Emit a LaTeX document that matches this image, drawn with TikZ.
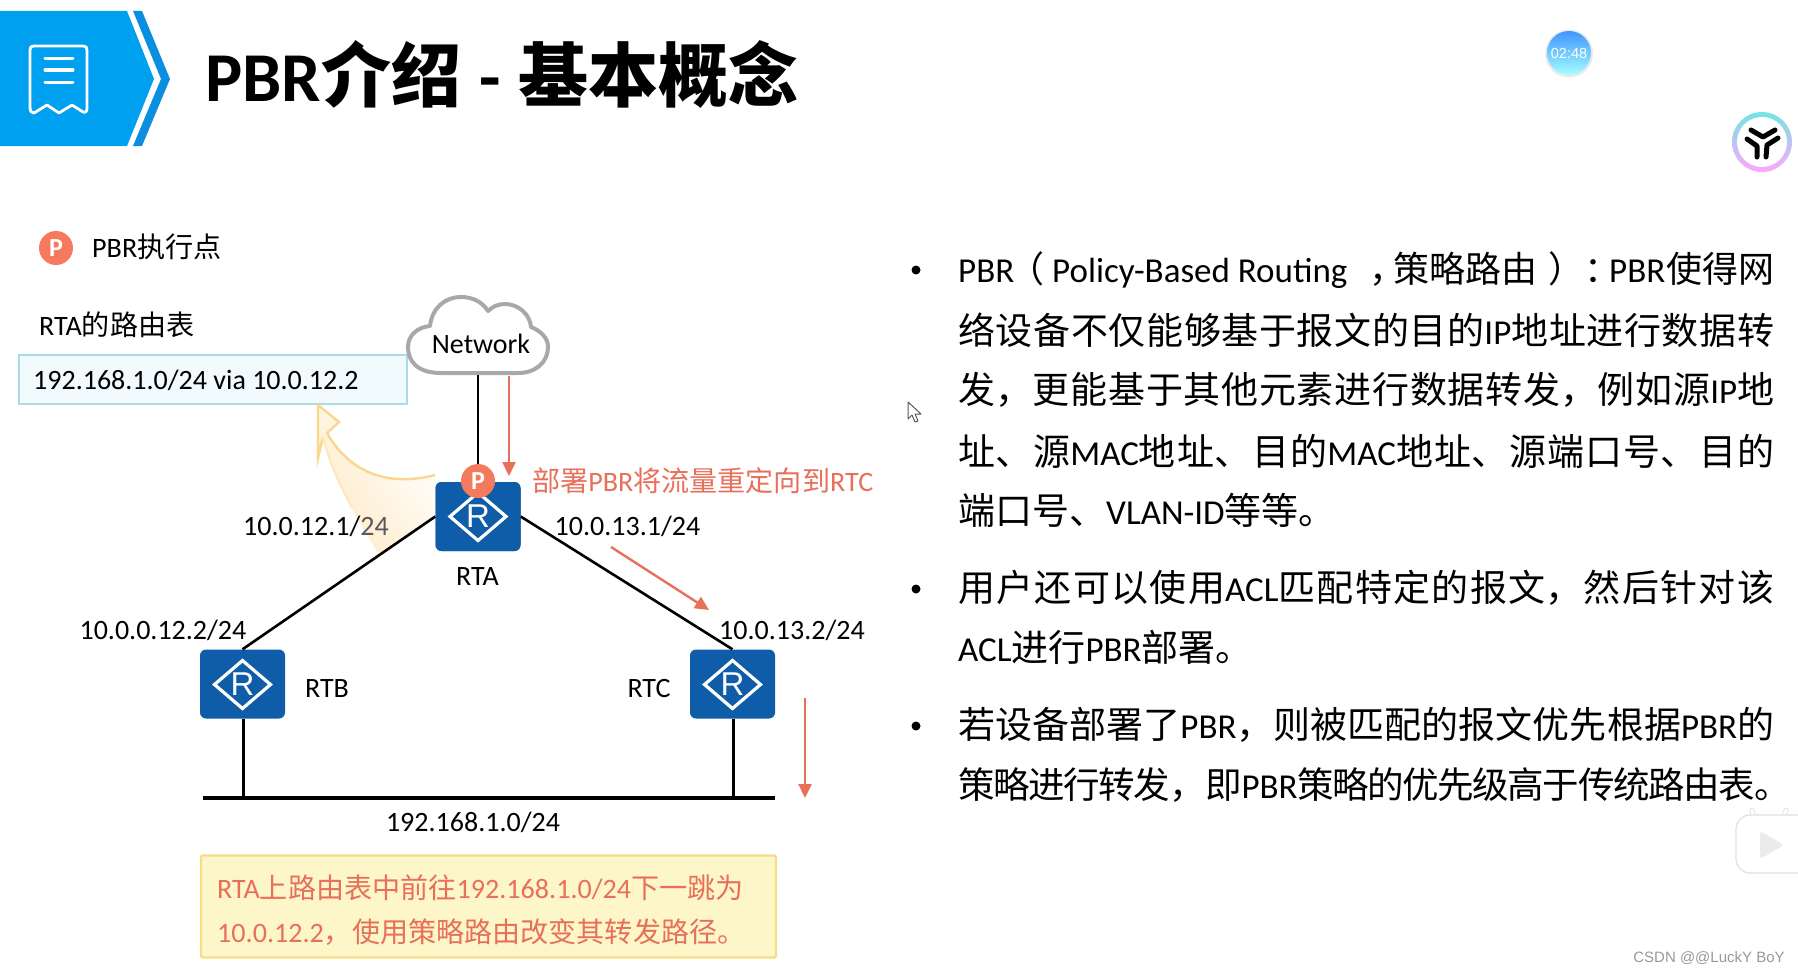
\documentclass[tikz,border=0pt]{standalone}
\usepackage{fontspec}
\usetikzlibrary{arrows.meta,shadings}
\setmainfont{Noto Sans CJK SC}
\newfontfamily\enf{Carlito}
\newfontfamily\wmf{Liberation Sans}
\newcommand{\en}[1]{{\enf #1}}
\newcommand{\enb}[1]{{\enf\fontsize{35}{42}\selectfont #1}}
\newcommand{\atx}[2]{\rlap{\hskip #1pt #2}}
\definecolor{hdblue}{HTML}{00A0F0}
\definecolor{hddark}{HTML}{0A8FE0}
\definecolor{rtblue}{HTML}{0F5CA8}
\definecolor{pbr}{HTML}{F47A5E}
\definecolor{redl}{HTML}{E8705A}
\definecolor{cloudg}{HTML}{A8A8A8}
\definecolor{tabb}{HTML}{A9DCEB}
\definecolor{tabf}{HTML}{F1FAFD}
\definecolor{ylwf}{HTML}{FDF6C8}
\definecolor{ylwb}{HTML}{F6DC86}
\definecolor{curv}{HTML}{FBD68F}
\definecolor{curvf}{HTML}{FFEBC8}
\tikzset{
 x=1pt,y=-1pt,
 router/.style={fill=rtblue,rounded corners=6pt,draw=none,inner sep=0pt,minimum width=85pt,minimum height=69pt},
 link/.style={line width=2.6pt,black},
 flow/.style={line width=2.4pt,redl,-{Triangle[length=14pt,width=13pt]},shorten >=0pt},
 lab/.style={font=\enf\fontsize{28}{32}\selectfont,inner sep=0pt,text=black},
 cn/.style={font=\fontsize{28.1}{32}\selectfont,inner sep=0pt},
 pbadge/.style={circle,fill=pbr,text=white,inner sep=0pt,minimum size=34pt,font=\enf\bfseries\fontsize{26}{26}\selectfont},
 bline/.style={anchor=west,inner sep=0pt,text=black,font=\fontsize{37}{42}\selectfont},
 iconln/.style={line width=3pt,white,line cap=round},
 bdot/.style={circle,fill=black,inner sep=0pt,minimum size=9pt},
 aiglyph/.style={line width=5pt,black,line cap=round,line join=round},
}
\newcommand{\bodyl}[2]{\parbox{#1pt}{\fontsize{37}{42}\selectfont\XeTeXlinebreaklocale "zh"\XeTeXlinebreakskip=0pt plus 6pt minus 1.5pt\parindent=0pt\parfillskip=0pt\tolerance=9999\hbadness=10000 #2}}
\newcommand{\routericon}[2]{%
 \draw[white,line width=3.2pt,line join=miter] (#1-28,#2) -- (#1,#2-24) -- (#1+28,#2) -- (#1,#2+24) -- cycle;
 \node[text=white,inner sep=0pt,font=\wmf\fontsize{33}{33}\selectfont] at (#1,#2) {R};}
\begin{document}
\begin{tikzpicture}
\useasboundingbox (0,0) rectangle (1798,974);
\fill[white] (0,0) rectangle (1798,974);
% header
\fill[hdblue] (0,11) -- (127,11) -- (154,79) -- (127,146) -- (0,146) -- cycle;
\fill[hddark] (133,11) -- (142,11) -- (170,79) -- (142,146) -- (133,146) -- (161,79) -- cycle;
\draw[white,line width=2.8pt,line join=round] (34,113) .. controls (31,113) and (30,111) .. (30,108) -- (30,50) .. controls (30,47) and (31,46) .. (34,46) -- (83,46) .. controls (86,46) and (87,47) .. (87,50) -- (87,108) .. controls (87,111) and (86,113) .. (83,112) -- (72,105) -- (59,113) -- (47,105) -- cycle;
\draw[iconln] (45,59) -- (73,59);
\draw[iconln] (45,70) -- (73,70);
\draw[iconln] (45,82) -- (73,82);
\node[anchor=west,inner sep=0pt,font=\bfseries\fontsize{70}{76}\selectfont] (title) at (205,74) {\en{PBR}介绍\hskip 2pt{} \en{-}\hskip 2pt{} 基本概念};
% timer
\fill[white!92!black] (1569,53.5) circle (24);
\shade[top color=blue!55!cyan!75!white,bottom color=cyan!35!white] (1569,53) circle (22);
\node[inner sep=0pt,text=white,font=\wmf\fontsize{14.5}{16}\selectfont] (timer) at (1569,54) {02:48};
% ai icon
\shade[left color=cyan!50!white!90!black,right color=magenta!35!white,shading angle=0] (1762,142) circle (30);
\fill[white] (1762,142) circle (25);
\draw[aiglyph] (1751,130) -- (1763,137) -- (1775,130);
\draw[aiglyph] (1747,139) -- (1757,146) -- (1757,157);
\draw[aiglyph] (1778,138) -- (1767,145) -- (1766,157);
% tv
\draw[black!10,line width=5pt,line cap=round] (1755,822) -- (1752,810);
\draw[black!10,line width=5pt,line cap=round] (1782,820) -- (1786,810);
\draw[white,line width=3pt,line cap=round] (1755,822) -- (1752,810);
\draw[white,line width=3pt,line cap=round] (1782,820) -- (1786,810);
\fill[white,draw=black!12,line width=1.2pt,rounded corners=14pt] (1736,815) rectangle (1815,873);
\fill[black!8,rounded corners=3pt] (1760,831) -- (1784,845) -- (1760,859) -- cycle;
% cursor
\draw[black!65,fill=white,line width=1pt,line join=round] (908,402) -- (908,419) -- (912,415) -- (915,422) -- (918,421) -- (915,414) -- (921,414) -- cycle;
% watermark
\node[inner sep=0pt,text=black!40,font=\wmf\fontsize{15}{18}\selectfont] (wm) at (1709,958) {CSDN @@LuckY BoY};
% legend
\node[pbadge] (legendp) at (56,248) {P};
\node[cn,anchor=west] (legendt) at (92,247) {\en{PBR}执行点};
\node[cn,anchor=west] (tabtitle) at (39,324.5) {\en{RTA}的路由表};
\node[draw=tabb,fill=tabf,line width=2pt,minimum width=388pt,minimum height=49pt,inner sep=0pt] (tab) at (213,379.5) {};
\node[lab,anchor=west] (tabtext) at (33,380) {192.168.1.0/24 via 10.0.12.2};
% curved arrow
\shade[left color=curvf,right color=white,shading angle=125,draw=none] (318,405) -- (339,422) -- (327,433) .. controls (348,470) and (385,488) .. (435,475) -- (435,516) -- (380,556) .. controls (360,525) and (340,490) .. (323,437) -- (318,458) -- cycle;
\draw[curv,line width=2.4pt,line join=miter] (323,437) -- (318,458) -- (318,405) -- (339,422) -- (327,433) .. controls (348,470) and (385,488) .. (435,475);
\draw[curv!60!white,line width=2pt] (323,437) .. controls (330,465) and (340,485) .. (352,508);
% cloud
\draw[cloudg,fill=white,line width=4pt,line join=round] (441,373) .. controls (418,373) and (408,362) .. (408,347) .. controls (408,335) and (418,327) .. (430,326) .. controls (432,308) and (445,297) .. (461,297) .. controls (474,297) and (483,303) .. (488,311) .. controls (493,306) and (499,304) .. (505,304) .. controls (518,304) and (530,314) .. (531,327) .. controls (541,331) and (548,338) .. (548,347) .. controls (548,362) and (536,373) .. (518,373) -- cycle;
\node[lab,inner sep=0pt] (net) at (481,344) {Network};
\coordinate (netb) at (478,375);
\coordinate (flowa) at (509,376);
\coordinate (flowb) at (509,476);
\coordinate (flowc) at (611,547);
\coordinate (flowd) at (709,610);
\coordinate (flowe) at (805,698);
\coordinate (flowf) at (805,798);
\coordinate (busl) at (203,798);
\coordinate (busr) at (775,798);
% routers
\node[router] (rta) at (478,516.5) {};
\node[router] (rtb) at (242.5,684) {};
\node[router] (rtc) at (732.5,684) {};
% links
\draw[link] (netb) -- (rta.north);
\draw[link] (rta.west) -- (rtb.north);
\draw[link] (rta.east) -- (rtc.north);
\draw[link] (rtb.south) ++(0.7,0) -- ++(0,79);
\draw[link] (rtc.south) ++(0.7,0) -- ++(0,79);
\draw[line width=3.2pt,black] (busl) -- (busr);
\draw[flow] (flowa) -- (flowb);
\draw[flow] (flowc) -- (flowd);
\draw[flow] (flowe) -- (flowf);
\node[router] at (478,516.5) {};
\routericon{478}{516.5}
\routericon{242.5}{684.5}
\routericon{732.5}{684.5}
\node[pbadge] (rtap) at (478,481) {P};
% labels
\node[lab] (la) at (316,526) {10.0.12.1/\textcolor{black!65}{24}};
\node[lab] (lb) at (627.5,526) {10.0.13.1/24};
\node[lab] (lc) at (163,630) {10.0.0.12.2/24};
\node[lab] (ld) at (792,630) {10.0.13.2/24};
\node[lab] (rtal) at (477.5,577) {RTA};
\node[lab] (rtbl) at (327,689) {RTB};
\node[lab] (rtcl) at (649,689) {RTC};
\node[lab] (busl2) at (473,822) {192.168.1.0/24};
\node[cn,anchor=west,text=redl] (deploy) at (532,481) {部署\en{PBR}将流量重定向到\en{RTC}};
% note
\node[draw=ylwb,fill=ylwf,line width=2.2pt,rounded corners=2pt,minimum width=575pt,minimum height=102pt,inner sep=0pt] (note) at (488.5,906.5) {};
\node[cn,anchor=west,text=redl] (n1) at (217,888) {\en{RTA}上路由表中前往\en{192.168.1.0/24}下一跳为};
\node[cn,anchor=west,text=redl] (n2) at (217,932) {\en{10.0.12.2}，使用策略路由改变其转发路径。};
% bullets
\node[bdot] (b1) at (916,270) {};
\node[bdot] (b2) at (916,589) {};
\node[bdot] (b3) at (916,726) {};
\node[bline] (t1) at (958,270) {\hbox to 816pt{\vphantom{络}\fontsize{36}{42}\selectfont\atx{0}{\enb{PBR}}\atx{50}{（}\atx{94}{\enb{Policy-Based Routing}}\atx{411}{，}\atx{435}{策略路由}\atx{590}{）}\atx{626}{：}\atx{651}{\enb{PBR}}\atx{708}{使得网}\hfil}};
\node[bline] (t2) at (958,330) {\bodyl{816}{络设备不仅能够基于报文的目的\enb{IP}地址进行数据转}};
\node[bline] (t3) at (958,390) {\bodyl{816}{发，更能基于其他元素进行数据转发，例如源\enb{IP}地}};
\node[bline] (t4) at (958,451) {\bodyl{816}{址、源\enb{MAC}地址、目的\enb{MAC}地址、源端口号、目的}};
\node[bline] (t5) at (958,510) {端口号、\enb{VLAN-ID}等等。};
\node[bline] (t6) at (958,588) {\bodyl{816}{用户还可以使用\enb{ACL}匹配特定的报文，然后针对该}};
\node[bline] (t7) at (958,647.5) {\enb{ACL}进行\enb{PBR}部署。};
\node[bline] (t8) at (958,725) {\bodyl{816}{若设备部署了\enb{PBR}，则被匹配的报文优先根据\enb{PBR}的}};
\node[bline] (t9) at (958,785) {\bodyl{833}{\fontsize{36.5}{42}\selectfont 策略进行转发，即\enb{PBR}策略的优先级高于传统路由表。}};
\end{tikzpicture}
\end{document}
